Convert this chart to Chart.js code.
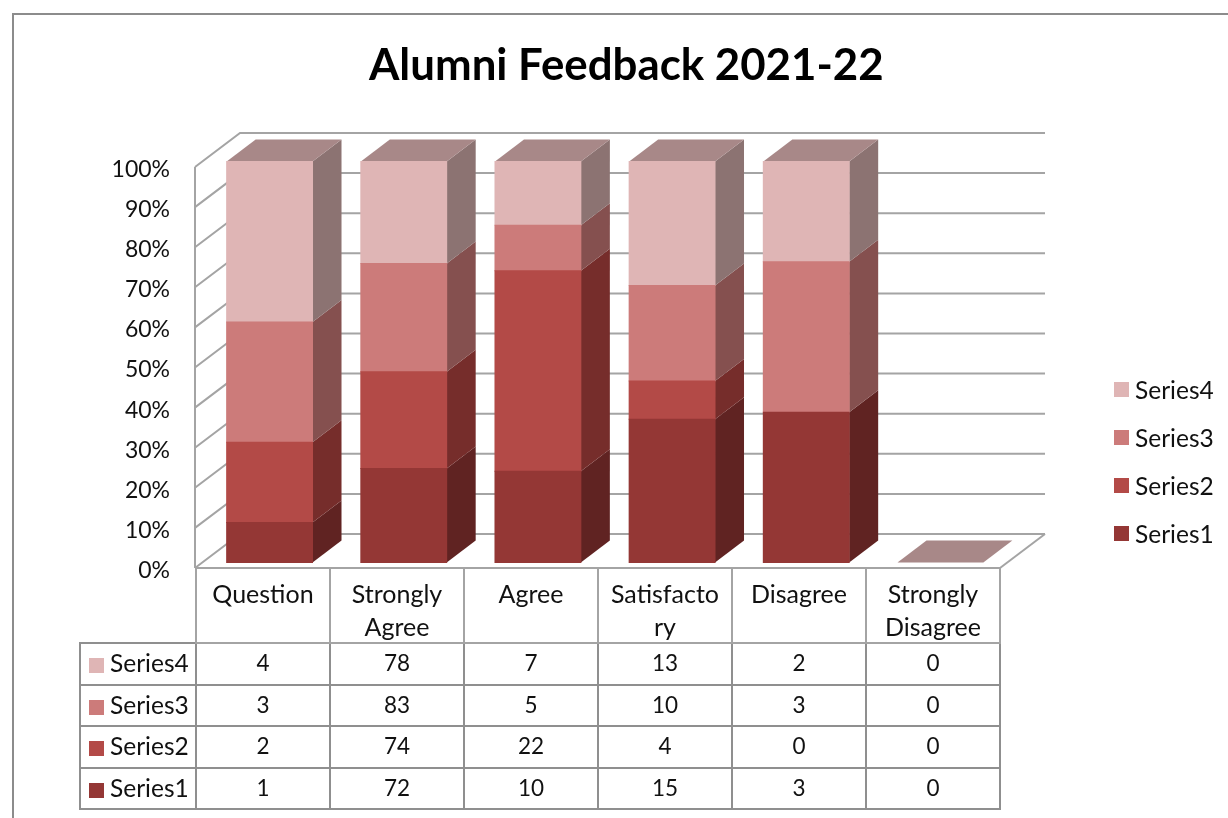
<!DOCTYPE html>
<html>
<head>
<meta charset="utf-8">
<title>Alumni Feedback 2021-22</title>
<script src="https://cdn.jsdelivr.net/npm/chart.js@4/dist/chart.umd.min.js"></script>
<style>
  html, body { margin: 0; padding: 0; background: #fff; overflow: hidden; }
  body { width: 1228px; height: 818px; position: relative; font-family: Lato, sans-serif; color: #111; filter: blur(0.45px); }
  #frame { position: absolute; left: 12px; top: 13px; right: -4px; bottom: -4px; border: 2px solid #8c8c8c; }
  #chart { position: absolute; left: 0; top: 0; }
  #title { position: absolute; left: 369px; width: 514px; top: 36px; margin: 0; text-align: center; white-space: nowrap;
           font-size: 43.8px; line-height: 54px; font-weight: 700; color: #000; }
  #legend { position: absolute; left: 1114px; top: 0; }
  #legend div { position: absolute; left: 0; white-space: nowrap; font-size: 24.5px; line-height: 24px; }
  #legend i { position: absolute; left: 0; top: 4px; width: 15px; height: 15px; }
  #legend span { position: absolute; left: 21px; top: 0; }
  table { position: absolute; left: 79px; top: 567px; border-collapse: collapse; table-layout: fixed; font-size: 22.5px; }
  td { border: 2px solid #8f8f8f; padding: 0 0 2px 0; height: 37.5px; text-align: center; }
  tr.head td { height: 74px; font-size: 25px; line-height: 32.5px; vertical-align: top; padding: 8px 0 0 0; box-sizing: border-box; white-space: pre-line; border-color: #a4a4a4; }
  tr.head td.blank { border: none; border-right: 2px solid #a4a4a4; }
  td.key { text-align: left; white-space: nowrap; font-size: 24.5px; }
  td.key i { display: inline-block; width: 15px; height: 15px; margin: 0 6px 0 8px; vertical-align: -1px; }
</style>
</head>
<body>
<div id="frame"></div>
<canvas id="chart" width="1228" height="818"></canvas>
<h1 id="title">Alumni Feedback 2021-22</h1>
<div id="legend"></div>
<table id="dataTable"></table>

<script>
const categories = ["Question", "Strongly\nAgree", "Agree", "Satisfacto\nry", "Disagree", "Strongly\nDisagree"];
const seriesNames = ["Series1", "Series2", "Series3", "Series4"];
const series1 = [1, 72, 10, 15, 3, 0];
const series2 = [2, 74, 22, 4, 0, 0];
const series3 = [3, 83, 5, 10, 3, 0];
const series4 = [4, 78, 7, 13, 2, 0];
const allSeries = [series1, series2, series3, series4];

const frontColors = ["#943735", "#B34A47", "#CC7B7A", "#DFB5B5"];
const sideColors = ["#602322", "#762D2B", "#85504F", "#8C7372"];
const topColor = "#A88888";
const gridColor = "#A4A4A4";

const totals = categories.map((c, i) => allSeries.reduce((sum, s) => sum + s[i], 0));

// fake 3D: depth of the wall box and of the bars, and where the bars stand on the floor
const wall = { dx: 45, dy: -34 };
const bar = { dx: 29, dy: -22, shiftX: 7.5, shiftY: -5.5 };

function poly(ctx, color, pts) {
  ctx.fillStyle = color;
  ctx.beginPath();
  pts.forEach((p, i) => (i ? ctx.lineTo(p[0], p[1]) : ctx.moveTo(p[0], p[1])));
  ctx.closePath();
  ctx.fill();
}

const box3d = {
  id: "box3d",
  beforeDatasetsDraw(chart) {
    const ctx = chart.ctx;
    const { left, right } = chart.chartArea;
    const y = chart.scales.y;

    // walls
    ctx.save();
    ctx.strokeStyle = gridColor;
    ctx.lineWidth = 2;
    y.ticks.forEach((t) => {
      const py = y.getPixelForValue(t.value);
      ctx.beginPath();
      ctx.moveTo(left, py);
      ctx.lineTo(left + wall.dx, py + wall.dy);
      ctx.lineTo(right + wall.dx, py + wall.dy);
      ctx.stroke();
    });
    const floor = y.getPixelForValue(0);
    ctx.beginPath();
    ctx.moveTo(left, y.getPixelForValue(100));
    ctx.lineTo(left, floor);
    ctx.stroke();
    ctx.beginPath();
    ctx.moveTo(right, floor);
    ctx.lineTo(right + wall.dx, floor + wall.dy);
    ctx.stroke();
    ctx.restore();

    // bars are shifted to the middle of the floor, sides and tops first
    ctx.save();
    ctx.translate(bar.shiftX, bar.shiftY);
    categories.forEach((c, i) => {
      let topY = floor;
      let el = null;
      chart.data.datasets.forEach((ds, d) => {
        el = chart.getDatasetMeta(d).data[i];
        if (Math.abs(el.base - el.y) < 0.5) return;
        const r = el.x + el.width / 2;
        poly(ctx, sideColors[d], [[r, el.y], [r + bar.dx, el.y + bar.dy], [r + bar.dx, el.base + bar.dy], [r, el.base]]);
        topY = Math.min(topY, el.y);
      });
      const l = el.x - el.width / 2;
      const r = el.x + el.width / 2;
      poly(ctx, topColor, [[l, topY], [l + bar.dx, topY + bar.dy], [r + bar.dx, topY + bar.dy], [r, topY]]);
    });
    // stays translated while the library draws the front faces
  },
  afterDatasetsDraw(chart) {
    chart.ctx.restore();
  },
};

new Chart(document.getElementById("chart"), {
  type: "bar",
  data: {
    labels: categories,
    datasets: allSeries.map((s, d) => ({
      label: seriesNames[d],
      data: s.map((v, i) => (totals[i] ? (v / totals[i]) * 100 : 0)),
      // zero rows get nothing on the front, otherwise the last column shows a red line
      backgroundColor: (c) => (c.raw > 0 ? frontColors[d] : "rgba(0,0,0,0)"),
      borderWidth: 0,
      inflateAmount: 0.5,
      categoryPercentage: 1,
      barPercentage: 0.64,
      clip: false,
    })),
  },
  options: {
    responsive: false,
    animation: false,
    layout: { padding: { top: 167, right: 228, bottom: 250, left: 0 } },
    plugins: { legend: { display: false }, title: { display: false }, tooltip: { enabled: false } },
    scales: {
      x: { stacked: true, display: false },
      y: {
        stacked: true,
        min: 0,
        max: 100,
        afterFit: (s) => { s.width = 195; },
        grid: { display: false, drawTicks: false },
        border: { display: false },
        ticks: {
          stepSize: 10,
          padding: 25,
          labelOffset: 2.5,
          color: "#111",
          font: { family: "Lato", size: 23 },
          callback: (v) => v + "%",
        },
      },
    },
  },
  plugins: [box3d],
});

// legend, top entry is the last series
const legendTops = [522, 474, 426, 378];
const legend = document.getElementById("legend");
seriesNames.forEach((name, d) => {
  const row = document.createElement("div");
  row.style.top = legendTops[d] + "px";
  row.innerHTML = `<i style="background:${frontColors[d]}"></i><span>${name}</span>`;
  legend.appendChild(row);
});

// data table under the plot
const table = document.getElementById("dataTable");
const colWidths = [116, 134, 134, 134, 134, 134, 134];
table.style.width = colWidths.reduce((a, b) => a + b, 0) + "px";
table.innerHTML =
  "<colgroup>" + colWidths.map((w) => `<col style="width:${w}px">`).join("") + "</colgroup>" +
  `<tr class="head"><td class="blank"></td>${categories.map((c) => `<td>${c}</td>`).join("")}</tr>` +
  [3, 2, 1, 0].map((d) =>
    `<tr><td class="key"><i style="background:${frontColors[d]}"></i>${seriesNames[d]}</td>` +
    allSeries[d].map((v) => `<td>${v}</td>`).join("") + "</tr>"
  ).join("");
</script>
</body>
</html>
